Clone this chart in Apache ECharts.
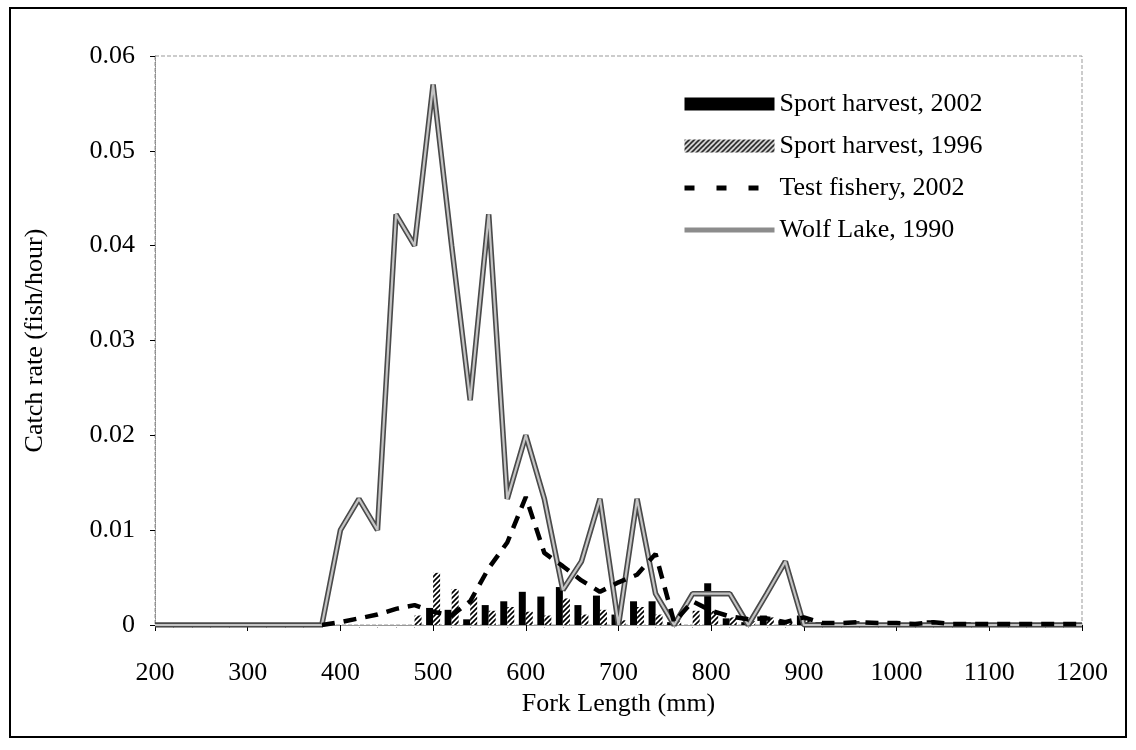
<!DOCTYPE html>
<html>
<head>
<meta charset="utf-8">
<script src="https://cdn.jsdelivr.net/npm/echarts@6/dist/echarts.min.js"></script>
<style>
html,body{margin:0;padding:0;background:#fff;}
#chart{width:1136px;height:750px;}
</style>
</head>
<body>
<div id="chart"></div>
<script>
// Fork length bins (mm)
const lengths = [200,220,240,260,280,300,320,340,360,380,400,420,440,460,480,500,520,540,560,580,600,620,640,660,680,700,720,740,760,780,800,820,840,860,880,900,920,940,960,980,1000,1020,1040,1060,1080,1100,1120,1140,1160,1180,1200];
const xTicks = [200,300,400,500,600,700,800,900,1000,1100,1200];
const yTicks = [0,0.01,0.02,0.03,0.04,0.05,0.06];

// Sport harvest, 2002 (solid black bars)
const sport2002 = [0,0,0,0,0,0,0,0,0,0,0,0,0,0,
  0,0.0018,0.0016,0.0006,0.0021,0.0025,0.0035,0.003,0.004,0.0021,0.0031,0.0011,0.0025,0.0025,0.0003,0,0.0044,0.0007,0.0003,0.001,0.0005,0.001,0.0003,0.0002,0.0004,0.0004,0.0003,0.0001,0.0005,0.0002,0.0003,0.0002,0.0001,0.0002,0,0.0002,0];
// Sport harvest, 1996 (hatched bars)
const sport1996 = [0,0,0,0,0,0,0,0,0,0,0,0,0,0,
  0.001,0.0055,0.0038,0.003,0.0015,0.0019,0.0014,0.001,0.0028,0.0011,0.0016,0.0005,0.0019,0.0011,0.0004,0.0015,0.0015,0.0008,0.0004,0.0008,0.0004,0.0007,0.0002,0.0001,0.0002,0.0001,0.0002,0.0001,0.0002,0.0001,0.0001,0.0001,0,0.0001,0,0.0001,0];
// Test fishery, 2002 (dashed line)
const testFishery = [null,null,null,null,null,null,null,null,null,
  0,0.0003,0.0007,0.0011,0.0017,0.0021,0.0014,0.001,0.0025,0.006,0.0087,0.0135,0.0076,0.0062,0.0047,0.0035,0.0045,0.0053,0.0075,0.0003,0.0025,0.0015,0.0009,0.0006,0.0007,0.0003,0.0008,0.0002,0.0002,0.0003,0.0002,0.0002,0.0001,0.0003,0.0001,0.0001,0.0001,0.0001,0.0001,0.0001,0.0001,0.0001];
// Wolf Lake, 1990 (gray line)
const wolfLake = [0,0,0,0,0,0,0,0,0,0,
  0.01,0.0133,0.01,0.0433,0.04,0.057,0.04,0.0237,0.0433,0.0133,0.02,0.0133,0.0037,0.0067,0.0133,0,0.0133,0.0033,0,0.0033,0.0033,0.0033,0,0.0033,0.0067,0,
  0,0,0,0,0,0,0,0,0,0,0,0,0,0,0];

const names = ['Sport harvest, 2002','Sport harvest, 1996','Test fishery, 2002','Wolf Lake, 1990'];

function pair(arr){ return lengths.map((x,i)=>[x, arr[i]]); }

// hatch pattern for 1996 bars
const pc = document.createElement('canvas');
pc.width = 5; pc.height = 5;
const g = pc.getContext('2d');
g.fillStyle = '#fff'; g.fillRect(0,0,5,5);
g.strokeStyle = '#000'; g.lineWidth = 1.6;
g.beginPath();
g.moveTo(-1,6); g.lineTo(6,-1);
g.moveTo(-3,3); g.lineTo(3,-3);
g.moveTo(2,8); g.lineTo(8,2);
g.stroke();

const FONT = 'Liberation Serif';
const chart = echarts.init(document.getElementById('chart'));
chart.setOption({
  animation: false,
  backgroundColor: '#fff',
  textStyle: {fontFamily: FONT, color: '#000'},
  graphic: [{
    type: 'rect', shape: {x: 10, y: 8, width: 1116, height: 729},
    style: {fill: 'none', stroke: '#000', lineWidth: 2}, silent: true
  }],
  grid: {left: 155, right: 54, top: 56, bottom: 125, show: true, borderColor: '#999', borderWidth: 1, borderType: 'dashed'},
  legend: {
    orient: 'vertical', left: 677, top: 86,
    itemWidth: 90, itemHeight: 13, itemGap: 16,
    data: [
      {name: names[0], icon: 'rect'},
      {name: names[1], icon: 'rect'},
      {name: names[2], lineStyle: {color: '#000', width: 5, type: [10, 22]}},
      {name: names[3], lineStyle: {color: '#8c8c8c', width: 5, type: 'solid'}}
    ],
    textStyle: {fontFamily: FONT, fontSize: 26, color: '#000'}
  },
  xAxis: {
    type: 'value', min: 200, max: 1200, interval: 100,
    name: 'Fork Length (mm)', nameLocation: 'middle', nameGap: 48,
    nameTextStyle: {fontFamily: FONT, fontSize: 26, color: '#000'},
    axisLine: {show: true, onZero: false, lineStyle: {color: '#999', width: 1}},
    axisTick: {show: true, length: 6, lineStyle: {color: '#000'}},
    minorTick: {show: true, splitNumber: 5, length: 4, lineStyle: {color: '#aaa', type: 'dotted'}},
    axisLabel: {fontFamily: FONT, fontSize: 26, color: '#000', margin: 35,
      formatter: v => xTicks.includes(v) ? String(v) : ''},
    splitLine: {show: false}
  },
  yAxis: {
    type: 'value', min: 0, max: 0.06, interval: 0.01,
    name: 'Catch rate (fish/hour)', nameLocation: 'middle', nameGap: 107,
    nameTextStyle: {fontFamily: FONT, fontSize: 26, color: '#000'},
    axisLine: {show: true, lineStyle: {color: '#888', type: 'dotted', width: 1}},
    axisTick: {show: true, length: 5, lineStyle: {color: '#000'}},
    axisLabel: {fontFamily: FONT, fontSize: 26, color: '#000', margin: 20,
      formatter: v => { const t = yTicks.find(k => Math.abs(k - v) < 1e-9); return t === undefined ? '' : (t === 0 ? '0' : t.toFixed(2)); }},
    splitLine: {show: false}
  },
  series: [
    {name: names[0], type: 'bar', data: pair(sport2002), barWidth: 7, barGap: '0%',
      itemStyle: {color: '#000'}},
    {name: names[1], type: 'bar', data: pair(sport1996), barWidth: 7, barGap: '0%',
      itemStyle: {color: {image: pc, repeat: 'repeat'}}},
    {name: names[3], type: 'line', data: pair(wolfLake), symbol: 'none', z: 3,
      lineStyle: {color: '#4a4a4a', width: 5.5}, itemStyle: {color: 'rgba(0,0,0,0)'}},
    {name: 'wolfInner', type: 'line', data: pair(wolfLake), symbol: 'none', z: 4,
      lineStyle: {color: '#c4c4c4', width: 2.2}, silent: true},
    {name: names[2], type: 'line', data: pair(testFishery), symbol: 'none', z: 5, connectNulls: false,
      lineStyle: {color: '#000', width: 4.5, type: [13, 9]}, itemStyle: {color: 'rgba(0,0,0,0)'}}
  ]
});
</script>
</body>
</html>
